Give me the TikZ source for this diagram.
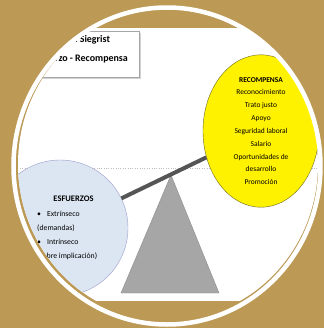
\documentclass[tikz,border=0pt]{standalone}
\usepackage{fontspec}
\setmainfont{Carlito}
\usetikzlibrary{shapes.geometric,shadows}
\definecolor{gold}{RGB}{188,153,85}
\definecolor{skyblue}{RGB}{220,230,242}
\definecolor{beamgray}{RGB}{85,85,85}
\begin{document}
\begin{tikzpicture}[x=1bp,y=-1bp,
  titlebox/.style={draw=gray!70,fill=white,drop shadow={shadow xshift=1.5bp,shadow yshift=-1.5bp,opacity=.35},minimum width=115bp,minimum height=46bp,inner sep=0pt},
  effort/.style={ellipse,draw=blue!30!gray!60,fill=skyblue,minimum width=136bp,minimum height=136bp,inner sep=0pt},
  reward/.style={ellipse,draw=olive!70!black,fill=yellow,minimum width=116bp,minimum height=152bp,inner sep=0pt,align=center,font=\fontsize{7.5}{12.9}\selectfont},
  beam/.style={line width=4bp,draw=beamgray}]
\useasboundingbox (0,0) rectangle (324,328);
%background
\fill[gold] (0,0) rectangle (324,328);
%slide
\begin{scope}
\clip (168,164) ellipse [x radius=150bp,y radius=156bp];
\clip (0,28) rectangle (324,301);
\fill[white] (0,28) rectangle (324,301);
\draw[gray!50,dotted] (20,168)--(320,168);
\node[titlebox,anchor=north west] (titlebox) at (24,31) {};
\node[anchor=west,align=left,inner sep=0pt,font=\bfseries\fontsize{10}{19}\selectfont] (title) at (32.5,49.5) {Modelo de Siegrist\\Esfuerzo - Recompensa};
\node[effort] (esf) at (60,228) {};
\node[inner sep=0pt,font=\bfseries\fontsize{8.5}{10}\selectfont] (esftitle) at (73.5,199) {ESFUERZOS};
\node[anchor=west,align=left,inner sep=0pt,font=\fontsize{7.8}{14.3}\selectfont] (esflist) at (37,235.5) {\textbullet\hspace{6bp}Extrínseco\\(demandas)\\\textbullet\hspace{6bp}Intrínseco\\(sobre implicación)};
\node[reward] (rec) at (261,131) {\textbf{RECOMPENSA}\\Reconocimiento\\Trato justo\\Apoyo\\Seguridad laboral\\Salario\\Oportunidades de\\desarrollo\\Promoción};
%fulcrum
\draw[fill=gray!70,draw=gray!90] (121,293)--(171,175)--(219,293)--cycle;
\draw[beam] (esf)--(rec);
\end{scope}
%ring
\draw[white,line width=4.5bp] (167,166) ellipse [x radius=153.5bp,y radius=158.5bp];
\end{tikzpicture}
\end{document}
